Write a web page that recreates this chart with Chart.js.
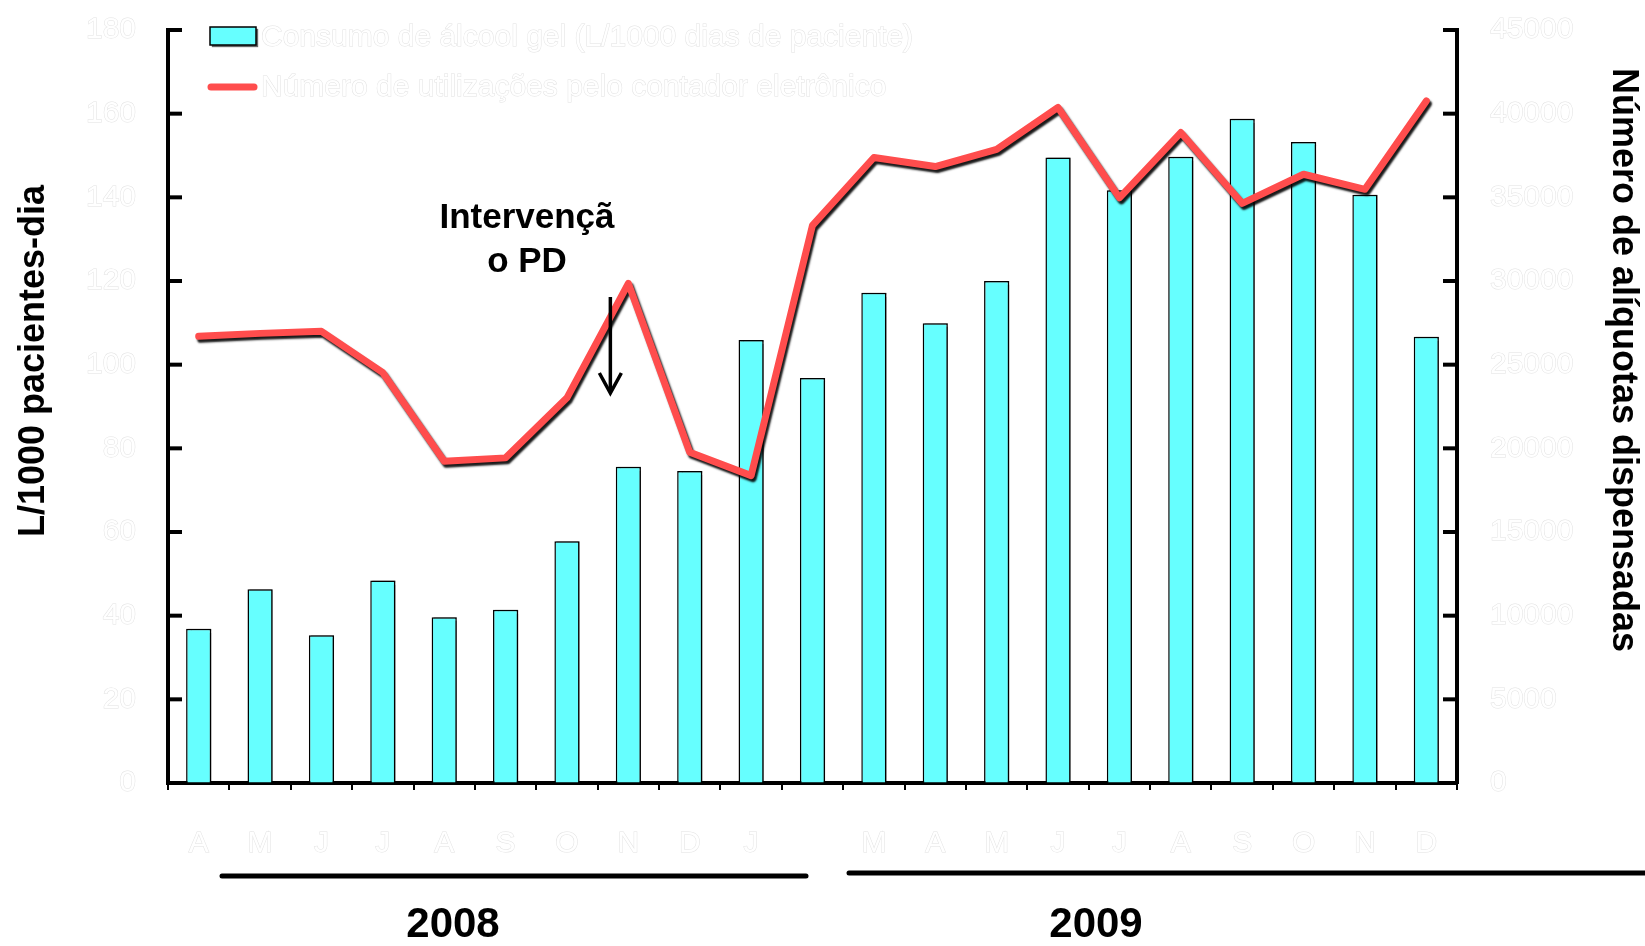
<!DOCTYPE html>
<html>
<head>
<meta charset="utf-8">
<script src="https://cdn.jsdelivr.net/npm/chart.js@4"></script>
<style>
  html, body { margin: 0; padding: 0; background: #fff; }
  #wrap { width: 1645px; height: 946px; }
</style>
</head>
<body>
<div id="wrap"><canvas id="c" width="1645" height="946"></canvas></div>
<script>
// ---- Data ----
const months = ['A','M','J','J','A','S','O','N','D','J','F','M','A','M','J','J','A','S','O','N','D'];
const hiddenMonthLabels = [10]; // the "F" label is not visible in the reference
const consumo = [36.9, 46.3, 35.3, 48.4, 39.6, 41.4, 57.8, 75.6, 74.6, 105.9, 96.8, 117.2, 109.9, 120.0, 149.5, 141.7, 149.7, 158.8, 153.2, 140.6, 106.7];
const utilizacoes = [26700, 26870, 26990, 24520, 19230, 19430, 23020, 29860, 19770, 18370, 33330, 37380, 36840, 37870, 40370, 34970, 38870, 34640, 36380, 35480, 40760];
const leftTickValues = [0, 20, 40, 60, 80, 100, 120, 140, 160, 180];
const rightTickValues = [0, 5000, 10000, 15000, 20000, 25000, 30000, 35000, 40000, 45000];
const seriesLabels = ['Consumo de álcool gel (L/1000 dias de paciente)', 'Número de utilizações pelo contador eletrônico'];
const leftTitle = 'L/1000 pacientes-dia';
const rightTitle = 'Número de alíquotas dispensadas';
const annotationLines = ['Intervençã', 'o PD'];
const annotationMonthIndex = 7;
const yearLabels = ['2008', '2009'];

const FONT = '"Liberation Sans", Arial, sans-serif';
const CYAN = '#66FFFF';
const RED = '#FF4D4D';
const TICK_STROKE = '#e2e2e2';

const shadowPlugin = {
  id: 'shadows',
  beforeDatasetDraw(chart, args) {
    const ctx = chart.ctx;
    ctx.save();
    const ds = chart.data.datasets[args.index];
    if (ds.type === 'line') {
      ctx.shadowColor = 'rgba(0,0,0,0.9)';
      ctx.shadowOffsetX = 2;
      ctx.shadowOffsetY = 3;
      ctx.shadowBlur = 2;
    } else {
      ctx.shadowColor = 'rgba(0,0,0,0.55)';
      ctx.shadowOffsetX = 2;
      ctx.shadowOffsetY = 0;
      ctx.shadowBlur = 1;
    }
  },
  afterDatasetDraw(chart) { chart.ctx.restore(); }
};

const decorPlugin = {
  id: 'decor',
  afterDraw(chart) {
    const ctx = chart.ctx;
    const ya = chart.scales.y, yb = chart.scales.y1, xs = chart.scales.x;
    const area = chart.chartArea;
    ctx.save();
    // inward tick marks
    ctx.strokeStyle = '#000';
    ctx.lineWidth = 4;
    ya.ticks.forEach(t => {
      const y = ya.getPixelForValue(t.value);
      ctx.beginPath(); ctx.moveTo(area.left, y); ctx.lineTo(area.left + 14, y); ctx.stroke();
    });
    yb.ticks.forEach(t => {
      const y = yb.getPixelForValue(t.value);
      ctx.beginPath(); ctx.moveTo(area.right - 14, y); ctx.lineTo(area.right, y); ctx.stroke();
    });

    // legend (inside, top-left)
    const ds0 = chart.data.datasets[0], ds1 = chart.data.datasets[1];
    ctx.save();
    ctx.shadowColor = 'rgba(0,0,0,0.6)'; ctx.shadowOffsetX = 2; ctx.shadowOffsetY = 2; ctx.shadowBlur = 1;
    ctx.fillStyle = ds0.backgroundColor;
    ctx.fillRect(210, 27, 46, 18);
    ctx.restore();
    ctx.strokeStyle = '#000'; ctx.lineWidth = 1.5;
    ctx.strokeRect(210, 27, 46, 18);
    ctx.strokeStyle = ds1.borderColor; ctx.lineWidth = 7; ctx.lineCap = 'round';
    ctx.beginPath(); ctx.moveTo(211, 87); ctx.lineTo(254, 87); ctx.stroke();
    ctx.font = 'normal 30px ' + FONT;
    ctx.textBaseline = 'middle'; ctx.textAlign = 'left';
    ctx.lineWidth = 1; ctx.strokeStyle = TICK_STROKE; ctx.fillStyle = '#fff';
    [[ds0.label, 38], [ds1.label, 88]].forEach(([txt, y]) => {
      ctx.strokeText(txt, 261, y); ctx.fillText(txt, 261, y);
    });

    // axis titles
    ctx.fillStyle = '#000';
    ctx.font = 'bold 36px ' + FONT;
    ctx.textAlign = 'center'; ctx.textBaseline = 'middle';
    ctx.save(); ctx.translate(34, 361); ctx.rotate(-Math.PI / 2); ctx.fillText(leftTitle, 0, 0); ctx.restore();
    ctx.save(); ctx.translate(1623, 360); ctx.rotate(Math.PI / 2); ctx.fillText(rightTitle, 0, 0); ctx.restore();

    // annotation
    const ax = xs.getPixelForValue(annotationMonthIndex) - 18;
    ctx.font = 'bold 35px ' + FONT;
    ctx.fillText(annotationLines[0], 527, 218);
    ctx.fillText(annotationLines[1], 527, 262);
    ctx.strokeStyle = '#000'; ctx.lineWidth = 3.5; ctx.lineCap = 'butt'; ctx.lineJoin = 'miter';
    ctx.beginPath(); ctx.moveTo(ax, 297); ctx.lineTo(ax, 392); ctx.stroke();
    ctx.beginPath(); ctx.moveTo(ax - 11, 373); ctx.lineTo(ax, 393); ctx.lineTo(ax + 11, 373); ctx.stroke();

    // year groups
    ctx.lineWidth = 5; ctx.lineCap = 'round';
    ctx.beginPath(); ctx.moveTo(222, 876); ctx.lineTo(806, 876); ctx.stroke();
    ctx.beginPath(); ctx.moveTo(849, 873); ctx.lineTo(1650, 873); ctx.stroke();
    ctx.font = 'bold 42px ' + FONT;
    ctx.fillText(yearLabels[0], 453, 925);
    ctx.fillText(yearLabels[1], 1096, 925);
    ctx.restore();
  }
};

const ctx = document.getElementById('c').getContext('2d');
new Chart(ctx, {
  data: {
    labels: months,
    datasets: [
      {
        type: 'bar',
        label: seriesLabels[0],
        data: consumo,
        yAxisID: 'y',
        backgroundColor: CYAN,
        borderColor: '#000',
        borderWidth: 1.5,
        barPercentage: 0.82,
        categoryPercentage: 0.5,
        order: 2
      },
      {
        type: 'line',
        label: seriesLabels[1],
        data: utilizacoes,
        yAxisID: 'y1',
        borderColor: RED,
        borderWidth: 7,
        pointRadius: 0,
        tension: 0,
        borderJoinStyle: 'round',
        borderCapStyle: 'round',
        fill: false,
        order: 1
      }
    ]
  },
  options: {
    responsive: false,
    animation: false,
    devicePixelRatio: 1,
    layout: { padding: { top: 30, left: 0, right: 0, bottom: 0 } },
    plugins: { legend: { display: false }, tooltip: { enabled: false }, title: { display: false } },
    scales: {
      x: {
        offset: true,
        grid: { display: true, offset: true, drawOnChartArea: false, drawTicks: true, tickLength: 7, color: '#000', lineWidth: 2 },
        border: { display: true, color: '#000', width: 4 },
        ticks: {
          autoSkip: false, maxRotation: 0, padding: 36,
          color: '#fff', textStrokeColor: TICK_STROKE, textStrokeWidth: 1,
          font: { family: FONT, size: 30 },
          callback: (v, i) => hiddenMonthLabels.includes(i) ? '' : months[i]
        },
        afterFit: s => { s.height = 163; s.paddingLeft = 0; s.paddingRight = 0; }
      },
      y: {
        position: 'left',
        min: leftTickValues[0], max: leftTickValues[leftTickValues.length - 1],
        afterBuildTicks: s => { s.ticks = leftTickValues.map(v => ({ value: v })); },
        grid: { display: true, drawOnChartArea: false, drawTicks: false },
        border: { display: true, color: '#000', width: 4 },
        ticks: {
          padding: 32, color: '#fff', textStrokeColor: TICK_STROKE, textStrokeWidth: 1,
          font: { family: FONT, size: 30 }
        },
        afterFit: s => { s.width = 168; s.paddingTop = 0; s.paddingBottom = 0; }
      },
      y1: {
        position: 'right',
        min: rightTickValues[0], max: rightTickValues[rightTickValues.length - 1],
        afterBuildTicks: s => { s.ticks = rightTickValues.map(v => ({ value: v })); },
        grid: { display: true, drawOnChartArea: false, drawTicks: false },
        border: { display: true, color: '#000', width: 4 },
        ticks: {
          padding: 33, color: '#fff', textStrokeColor: TICK_STROKE, textStrokeWidth: 1,
          font: { family: FONT, size: 30 },
          callback: v => String(v)
        },
        afterFit: s => { s.width = 188; s.paddingTop = 0; s.paddingBottom = 0; }
      }
    }
  },
  plugins: [shadowPlugin, decorPlugin]
});
</script>
</body>
</html>
